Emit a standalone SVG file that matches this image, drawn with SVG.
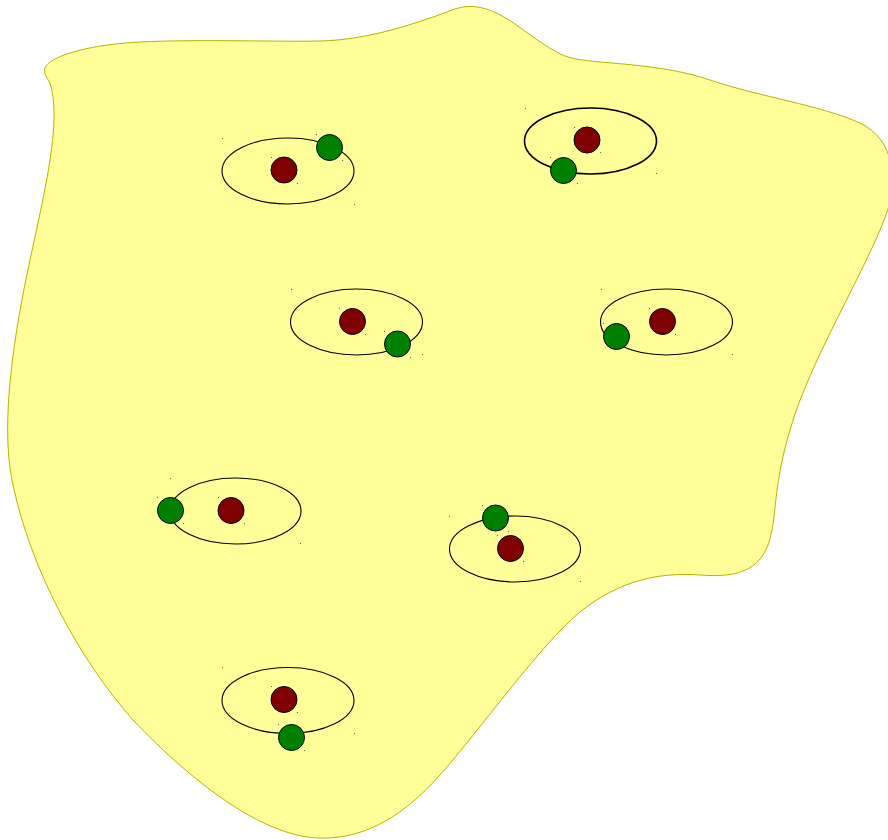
<svg xmlns="http://www.w3.org/2000/svg" xmlns:xlink="http://www.w3.org/1999/xlink" width="888" height="840" viewBox="0 0 888 840">
<style>
.blob{fill:#ffff99;stroke:#b5b500;stroke-width:1}
.orbit{fill:none;stroke:#000;stroke-width:1.1}
.red{fill:#800000;stroke:#000;stroke-width:1}
.green{fill:#008000;stroke:#000;stroke-width:1}
.dot{fill:#222;opacity:0.7}
</style>
<rect width="888" height="840" fill="#fff"/>
<g id="region">
<path class="blob" d="M 45,72 C 40,60 80,45 140,42 C 200,39 280,42 320,41 C 370,40 420,22 455,9 C 490,-3 520,30 545,45 C 565,58 570,59 600,62 C 650,66 680,70 710,80 C 760,97 820,105 860,123 C 895,140 898,180 886,215 C 866,270 810,360 790,430 C 775,480 776,510 772,530 C 765,570 740,578 700,575 C 660,572 620,580 580,612 C 540,645 480,730 440,775 C 400,820 360,840 317,838 C 260,835 190,780 133,720 C 80,660 30,570 12,480 C 0,420 15,330 30,260 C 45,190 62,120 50,83 C 47,78 44,74 45,72 Z"/>
</g>
<g id="atom1">
<ellipse class="orbit" cx="288" cy="171" rx="66" ry="33"/>
<circle class="red" cx="284" cy="170" r="13"/>
<circle class="green" cx="329.5" cy="147.5" r="13"/>
<rect class="dot" x="222" y="138" width="1" height="1"/><rect class="dot" x="354" y="204" width="1" height="1"/>
<rect class="dot" x="271" y="157" width="1" height="1"/><rect class="dot" x="297" y="183" width="1" height="1"/>
<rect class="dot" x="316" y="134" width="1" height="1"/><rect class="dot" x="342" y="160" width="1" height="1"/>
</g>
<g id="atom2">
<ellipse class="orbit" cx="590.5" cy="141" rx="66" ry="33" style="stroke-width:1.6"/>
<circle class="red" cx="587" cy="140" r="13"/>
<circle class="green" cx="563.5" cy="170.5" r="13"/>
<rect class="dot" x="525" y="108" width="1" height="1"/><rect class="dot" x="656" y="173" width="1" height="1"/>
<rect class="dot" x="574" y="127" width="1" height="1"/><rect class="dot" x="600" y="152" width="1" height="1"/>
<rect class="dot" x="550" y="157" width="1" height="1"/><rect class="dot" x="577" y="183" width="1" height="1"/>
</g>
<g id="atom3">
<ellipse class="orbit" cx="356.5" cy="322" rx="66" ry="33"/>
<circle class="red" cx="352.5" cy="321.5" r="13"/>
<circle class="green" cx="397.5" cy="344" r="13"/>
<rect class="dot" x="291" y="289" width="1" height="1"/><rect class="dot" x="422" y="354" width="1" height="1"/>
<rect class="dot" x="339" y="308" width="1" height="1"/><rect class="dot" x="365" y="334" width="1" height="1"/>
<rect class="dot" x="384" y="331" width="1" height="1"/><rect class="dot" x="410" y="357" width="1" height="1"/>
</g>
<g id="atom4">
<ellipse class="orbit" cx="666.5" cy="322" rx="66" ry="33"/>
<circle class="red" cx="662.5" cy="321.5" r="13"/>
<circle class="green" cx="616.5" cy="336.5" r="13"/>
<rect class="dot" x="601" y="289" width="1" height="1"/><rect class="dot" x="732" y="354" width="1" height="1"/>
<rect class="dot" x="649" y="308" width="1" height="1"/><rect class="dot" x="675" y="334" width="1" height="1"/>
<rect class="dot" x="603" y="323" width="1" height="1"/><rect class="dot" x="629" y="349" width="1" height="1"/>
</g>
<g id="atom5">
<ellipse class="orbit" cx="235.5" cy="511" rx="65.5" ry="33"/>
<circle class="red" cx="231" cy="510.5" r="13"/>
<circle class="green" cx="170.5" cy="510.5" r="13"/>
<rect class="dot" x="170" y="478" width="1" height="1"/><rect class="dot" x="300" y="543" width="1" height="1"/>
<rect class="dot" x="218" y="497" width="1" height="1"/><rect class="dot" x="244" y="523" width="1" height="1"/>
<rect class="dot" x="157" y="497" width="1" height="1"/><rect class="dot" x="183" y="523" width="1" height="1"/>
</g>
<g id="atom6">
<ellipse class="orbit" cx="515" cy="549" rx="65.5" ry="33"/>
<circle class="red" cx="510.5" cy="548.5" r="13"/>
<circle class="green" cx="495.5" cy="518" r="13"/>
<rect class="dot" x="449" y="516" width="1" height="1"/><rect class="dot" x="580" y="581" width="1" height="1"/>
<rect class="dot" x="497" y="535" width="1" height="1"/><rect class="dot" x="523" y="561" width="1" height="1"/>
<rect class="dot" x="482" y="505" width="1" height="1"/><rect class="dot" x="508" y="531" width="1" height="1"/>
</g>
<g id="atom7">
<ellipse class="orbit" cx="288" cy="700.5" rx="66" ry="33"/>
<circle class="red" cx="284" cy="699.5" r="13"/>
<circle class="green" cx="291.5" cy="737.5" r="13"/>
<rect class="dot" x="222" y="667" width="1" height="1"/><rect class="dot" x="354" y="733" width="1" height="1"/>
<rect class="dot" x="271" y="686" width="1" height="1"/><rect class="dot" x="297" y="712" width="1" height="1"/>
<rect class="dot" x="278" y="724" width="1" height="1"/><rect class="dot" x="304" y="750" width="1" height="1"/>
</g>
<g id="connectors"/>
</svg>
